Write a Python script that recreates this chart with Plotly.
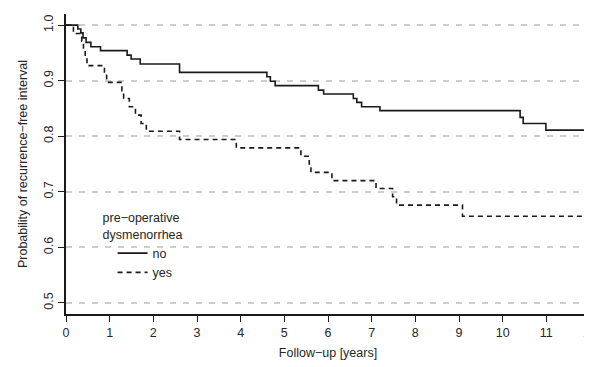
import plotly.graph_objects as go

# Kaplan-Meier estimates
times_no = [0, 0.27, 0.34, 0.39, 0.46, 0.57, 0.79, 1.40, 1.49, 1.70, 2.60, 4.60, 4.68, 4.79,
            5.78, 5.90, 6.58, 6.66, 6.77, 7.19, 10.40, 10.47, 10.99, 12.0]
surv_no = [1.0, 0.993, 0.986, 0.977, 0.969, 0.961, 0.954, 0.946, 0.939, 0.930, 0.915, 0.907, 0.899, 0.891,
           0.883, 0.876, 0.868, 0.861, 0.853, 0.846, 0.834, 0.823, 0.811, 0.811]

times_yes = [0, 0.17, 0.36, 0.40, 0.44, 0.48, 0.88, 0.93, 1.28, 1.32, 1.45, 1.59, 1.72, 1.84,
             2.60, 3.90, 5.38, 5.57, 5.61, 6.09, 7.10, 7.48, 7.57, 9.08, 12.0]
surv_yes = [1.0, 0.985, 0.971, 0.956, 0.941, 0.927, 0.912, 0.897, 0.882, 0.868, 0.853, 0.838, 0.823, 0.809,
            0.794, 0.779, 0.764, 0.750, 0.735, 0.720, 0.706, 0.691, 0.676, 0.656, 0.656]

x_ticks = list(range(0, 13))
y_ticks = [0.5, 0.6, 0.7, 0.8, 0.9, 1.0]
y_ticklabels = ["0.5", "0.6", "0.7", "0.8", "0.9", "1.0"]

FONT = "Liberation Sans, Arial, Helvetica, sans-serif"
TXT = "#262626"

fig = go.Figure()
fig.add_trace(go.Scatter(x=times_no, y=surv_no, mode="lines", name="no",
                         line=dict(shape="hv", color="#1a1a1a", width=1.6)))
fig.add_trace(go.Scatter(x=times_yes, y=surv_yes, mode="lines", name="yes",
                         line=dict(shape="hv", color="#1a1a1a", width=1.6, dash="5px,4px")))

# the page body has an 8px default margin, so margins are reduced accordingly
fig.update_layout(
    width=592, height=367,
    margin=dict(l=58, r=10, t=6, b=61),
    paper_bgcolor="white", plot_bgcolor="white",
    font=dict(family=FONT, size=12.5, color=TXT),
    showlegend=True,
    legend=dict(
        title=dict(text="pre−operative<br>dysmenorrhea", font=dict(size=12.5, color=TXT)),
        x=0.066, y=0.36, xanchor="left", yanchor="top",
        bgcolor="rgba(0,0,0,0)", font=dict(size=12.5, color=TXT),
        indentation=12, tracegroupgap=0,
    ),
    xaxis=dict(
        range=[0, 12], tickmode="array", tickvals=x_ticks,
        showgrid=False, zeroline=False,
        showline=True, linecolor="#1a1a1a", linewidth=2,
        ticks="outside", ticklen=6, tickwidth=1, tickcolor="#1a1a1a",
        tickfont=dict(size=12.5, color=TXT),
        title=dict(text="Follow−up [years]", font=dict(size=12.5, color=TXT), standoff=9),
        automargin=False,
    ),
    yaxis=dict(
        range=[0.48, 1.02], tickmode="array", tickvals=y_ticks, ticktext=y_ticklabels,
        tickangle=-90,
        showgrid=True, gridcolor="#cdcdcd", gridwidth=1.5, griddash="6px,7px",
        zeroline=False,
        showline=True, linecolor="#1a1a1a", linewidth=2,
        ticks="outside", ticklen=6, tickwidth=1, tickcolor="#1a1a1a",
        tickfont=dict(size=12.5, color=TXT),
        title=dict(text="Probability of recurrence−free interval", font=dict(size=12.5, color=TXT), standoff=12),
        automargin=False,
    ),
)

fig.write_html("out.html")
